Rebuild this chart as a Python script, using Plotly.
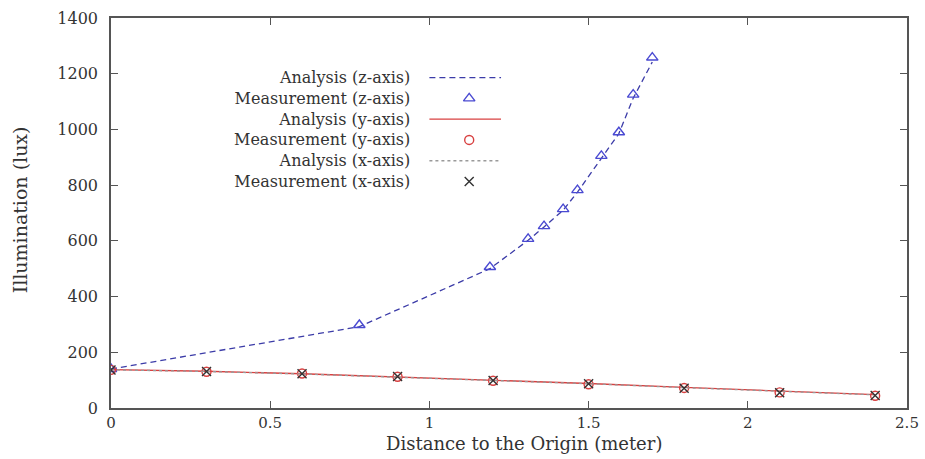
import plotly.graph_objects as go

# Along the z-axis (toward the lamp)
z_dist = [0, 0.78, 1.19, 1.31, 1.36, 1.42, 1.465, 1.54, 1.595, 1.64, 1.70]
z_measured = [140, 298, 506, 607, 653, 714, 782, 905, 990, 1125, 1258]
z_analysis = [140, 292, 500, 602, 650, 710, 775, 897, 985, 1112, 1242]

# Along the y- and x-axes (horizontal offsets)
xy_dist = [0, 0.3, 0.6, 0.9, 1.2, 1.5, 1.8, 2.1, 2.4]
y_measured = [137, 130, 124, 112, 98, 85, 72, 56, 44]
y_analysis = [138, 132, 123, 112, 100, 88, 74, 60, 48]
x_measured = [136, 131, 123, 113, 99, 87, 71, 55, 45]
x_analysis = [137, 131, 122, 111, 99, 87, 73, 59, 47]

x_ticks = [0, 0.5, 1, 1.5, 2, 2.5]
x_tick_text = ["0", "0.5", "1", "1.5", "2", "2.5"]
y_ticks = [0, 200, 400, 600, 800, 1000, 1200, 1400]

legend_labels = [
    "Analysis (z-axis)", "Measurement (z-axis)",
    "Analysis (y-axis)", "Measurement (y-axis)",
    "Analysis (x-axis)", "Measurement (x-axis)",
]

SERIF = "DejaVu Serif"
BLUE_LINE = "#3c3ca8"
BLUE_MARK = "#4a4ad2"
RED = "#d84040"
GRAY = "#9a9a9a"
DARK = "#333333"

KEY_FONT = 16
PLOT_H = 459 - 18 - 51

fig = go.Figure()

fig.add_trace(go.Scatter(x=z_dist, y=z_analysis, mode="lines",
                         line=dict(color=BLUE_LINE, width=1.3, dash="6px,4px")))
fig.add_trace(go.Scatter(x=z_dist, y=z_measured, mode="markers",
                         marker=dict(symbol="triangle-up-open", size=10, color=BLUE_MARK,
                                     line=dict(width=1.4))))
fig.add_trace(go.Scatter(x=xy_dist, y=y_analysis, mode="lines",
                         line=dict(color=RED, width=1.3)))
fig.add_trace(go.Scatter(x=xy_dist, y=y_measured, mode="markers",
                         marker=dict(symbol="circle-open", size=9, color=RED,
                                     line=dict(width=1.4))))
fig.add_trace(go.Scatter(x=xy_dist, y=x_analysis, mode="lines",
                         line=dict(color=GRAY, width=1.3, dash="dot")))
fig.add_trace(go.Scatter(x=xy_dist, y=x_measured, mode="markers",
                         marker=dict(symbol="x-thin-open", size=9, color="#333333",
                                     line=dict(width=1.4))))

# Key: one right-aligned text block with a sample beside each line,
# samples drawn on a unit overlay axis
key_center = 0.714
row_step = 1.3 * KEY_FONT / PLOT_H
key_rows = [key_center + (2.5 - i) * row_step for i in range(6)]
key_text_x = 0.378
key_line = [0.400, 0.490]
key_mark = 0.450

key_styles = [
    dict(mode="lines", line=dict(color=BLUE_LINE, width=1.3, dash="6px,4px")),
    dict(mode="markers", marker=dict(symbol="triangle-up-open", size=10, color=BLUE_MARK,
                                     line=dict(width=1.4))),
    dict(mode="lines", line=dict(color=RED, width=1.3)),
    dict(mode="markers", marker=dict(symbol="circle-open", size=9, color=RED,
                                     line=dict(width=1.4))),
    dict(mode="lines", line=dict(color=GRAY, width=1.3, dash="dot")),
    dict(mode="markers", marker=dict(symbol="x-thin-open", size=9, color="#333333",
                                     line=dict(width=1.4))),
]
for ry, style in zip(key_rows, key_styles):
    if style["mode"] == "lines":
        xs, ys = key_line, [ry, ry]
    else:
        xs, ys = [key_mark], [ry]
    fig.add_trace(go.Scatter(x=xs, y=ys, xaxis="x2", yaxis="y2", **style))

annotations = [
    dict(x=key_text_x, y=key_center, xref="x2", yref="y2",
         text="<br>".join(legend_labels), showarrow=False, align="right",
         xanchor="right", yanchor="middle",
         font=dict(family=SERIF, size=KEY_FONT, color=DARK)),
    dict(x=0.519, y=-0.092, xref="paper", yref="paper",
         text="Distance to the Origin (meter)", showarrow=False,
         xanchor="center", yanchor="middle",
         font=dict(family=SERIF, size=18, color=DARK)),
    dict(x=-0.115, y=0.508, xref="paper", yref="paper",
         text="Illumination (lux)", showarrow=False, textangle=-90,
         xanchor="center", yanchor="middle",
         font=dict(family=SERIF, size=19, color=DARK)),
]

axis_common = dict(showline=True, linecolor="#555555", linewidth=1.5, mirror="allticks",
                   ticks="inside", ticklen=7, tickcolor="#555555", tickwidth=1.2,
                   showgrid=False, zeroline=False, automargin=False,
                   tickfont=dict(family=SERIF, size=16, color=DARK))

fig.update_layout(
    width=925, height=459,
    margin=dict(l=111, r=18, t=18, b=51),
    paper_bgcolor="white", plot_bgcolor="white",
    showlegend=False,
    xaxis=dict(range=[0, 2.5], tickvals=x_ticks, ticktext=x_tick_text,
               ticklabelstandoff=0, tickfont=dict(family=SERIF, size=15, color=DARK),
               **{k: v for k, v in axis_common.items() if k != "tickfont"}),
    yaxis=dict(range=[0, 1400], tickvals=y_ticks, ticklabelstandoff=8, **axis_common),
    xaxis2=dict(overlaying="x", range=[0, 1], visible=False),
    yaxis2=dict(overlaying="y", range=[0, 1], visible=False),
    annotations=annotations,
)

fig.write_html("out.html")
